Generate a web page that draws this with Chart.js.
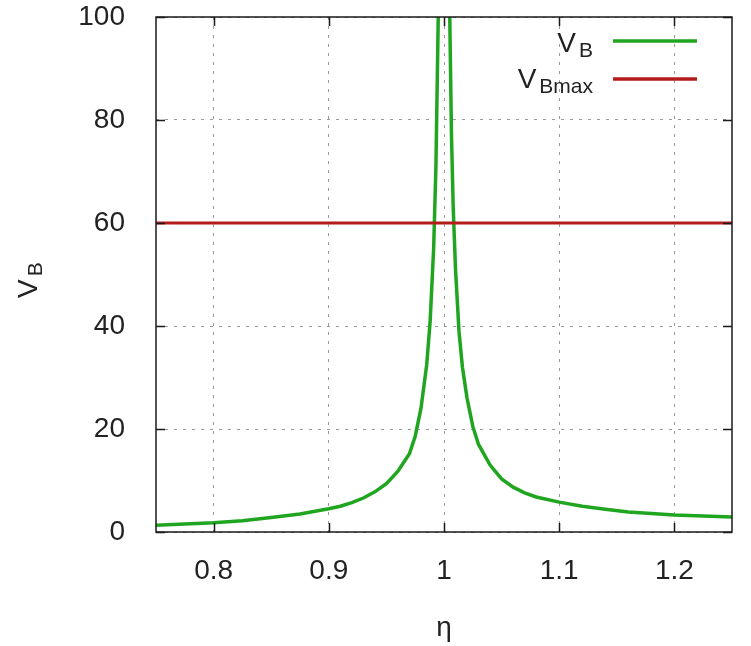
<!DOCTYPE html>
<html>
<head>
<meta charset="utf-8">
<script src="https://cdn.jsdelivr.net/npm/chart.js@4.4.1/dist/chart.umd.min.js"></script>
<style>
  html, body { margin: 0; padding: 0; background: #fff; }
  canvas { display: block; }
</style>
</head>
<body>
<canvas id="grafico" width="751" height="646"></canvas>
<script>
// valores
const eta = [0.75, 0.775, 0.8, 0.825, 0.85, 0.875, 0.9, 0.91, 0.92, 0.93, 0.94, 0.95, 0.96, 0.97, 0.975, 0.98, 0.985, 0.988, 0.991, 0.993, 0.995, 0.9965,
             1.0015, 1.005, 1.0065, 1.008, 1.01, 1.013, 1.016, 1.02, 1.025, 1.03, 1.04, 1.05, 1.06, 1.07, 1.08, 1.1, 1.12, 1.14, 1.16, 1.18, 1.2, 1.225, 1.25];
const vB = [1.3, 1.55, 1.8, 2.2, 2.8, 3.5, 4.5, 5.0, 5.7, 6.6, 7.8, 9.4, 11.8, 15.2, 18.6, 24.0, 32.5, 41, 55, 71, 100, 140,
            330, 100, 77, 63, 51, 39, 32, 26, 20.5, 17, 13, 10.3, 8.7, 7.6, 6.8, 5.8, 5.0, 4.4, 3.9, 3.6, 3.3, 3.1, 2.9];
const vBmax = [60, 60];
const etaRange = [0.75, 1.25];
const xTicks = [0.8, 0.9, 1, 1.1, 1.2];
const xTickLabels = ['0.8', '0.9', '1', '1.1', '1.2'];
const yTicks = [0, 20, 40, 60, 80, 100];
const yTickLabels = ['0', '20', '40', '60', '80', '100'];

const verde = '#20a520';
const vermelho = '#b41c1c';
const fonte = '"Liberation Sans", Arial, sans-serif';

// texto com subscrito (V_B)
function textoSub(ctx, base, sub, tam) {
  ctx.font = tam + 'px ' + fonte;
  const w1 = ctx.measureText(base).width;
  ctx.font = Math.round(tam * 0.75) + 'px ' + fonte;
  const w2 = ctx.measureText(sub).width;
  return { w1, w2, desenha(px, py) {
    ctx.font = tam + 'px ' + fonte;
    ctx.fillText(base, px, py);
    ctx.font = Math.round(tam * 0.75) + 'px ' + fonte;
    ctx.fillText(sub, px + w1 + 3, py + 5);
  }};
}

const moldura = {
  id: 'moldura',
  afterDatasetsDraw(chart) {
    const { ctx, chartArea: a, scales: { x, y } } = chart;
    ctx.save();
    ctx.strokeStyle = '#1a1a1a';
    ctx.lineWidth = 1.5;
    ctx.strokeRect(a.left, a.top, a.right - a.left, a.bottom - a.top);
    ctx.beginPath();
    xTicks.forEach(v => {
      const px = Math.round(x.getPixelForValue(v)) + 0.5;
      ctx.moveTo(px, a.bottom); ctx.lineTo(px, a.bottom - 9);
      ctx.moveTo(px, a.top); ctx.lineTo(px, a.top + 9);
    });
    yTicks.forEach(v => {
      const py = Math.round(y.getPixelForValue(v)) + 0.5;
      ctx.moveTo(a.left, py); ctx.lineTo(a.left + 9, py);
      ctx.moveTo(a.right, py); ctx.lineTo(a.right - 9, py);
    });
    ctx.stroke();

    // legenda
    ctx.fillStyle = '#222';
    ctx.textBaseline = 'alphabetic';
    ctx.textAlign = 'left';
    const itens = [
      { base: 'V', sub: 'B', cor: verde, y: 52, ly: 41 },
      { base: 'V', sub: 'Bmax', cor: vermelho, y: 88, ly: 79 }
    ];
    itens.forEach(it => {
      const t = textoSub(ctx, it.base, it.sub, 28);
      const fim = 593;
      t.desenha(fim - t.w1 - 3 - t.w2, it.y);
      ctx.strokeStyle = it.cor;
      ctx.lineWidth = 3.5;
      ctx.beginPath();
      ctx.moveTo(613, it.ly); ctx.lineTo(697, it.ly);
      ctx.stroke();
    });

    // titulo do eixo y, rotacionado
    ctx.translate(37, 298);
    ctx.rotate(-Math.PI / 2);
    textoSub(ctx, 'V', 'B', 28).desenha(0, 0);
    ctx.restore();
  }
};

const ctx = document.getElementById('grafico');

new Chart(ctx, {
  type: 'line',
  data: {
    datasets: [
      {
        label: 'V_B',
        data: eta.map((e, i) => ({ x: e, y: vB[i] })),
        borderColor: verde,
        borderWidth: 3.5,
        pointRadius: 0,
        tension: 0,
        order: 1
      },
      {
        label: 'V_Bmax',
        data: etaRange.map((e, i) => ({ x: e, y: vBmax[i] })),
        borderColor: vermelho,
        borderWidth: 3,
        pointRadius: 0,
        order: 0
      }
    ]
  },
  options: {
    responsive: false,
    animation: false,
    layout: { padding: { top: 17, right: 19, left: 0, bottom: 0 } },
    plugins: { legend: { display: false }, tooltip: { enabled: false } },
    scales: {
      x: {
        type: 'linear',
        min: etaRange[0],
        max: etaRange[1],
        afterBuildTicks: s => { s.ticks = xTicks.map(v => ({ value: v })); },
        afterFit: s => { s.height = 114; s.paddingLeft = 0; s.paddingRight = 0; },
        grid: { color: '#9a9a9a', lineWidth: 1, drawTicks: false },
        border: { display: false, dash: [3, 6] },
        ticks: {
          padding: 22,
          color: '#222',
          font: { family: fonte, size: 28 },
          callback: (v) => xTickLabels[xTicks.indexOf(v)]
        },
        title: {
          display: true,
          text: 'η',
          color: '#222',
          font: { family: fonte, size: 28 },
          padding: { top: 0, bottom: 1 }
        }
      },
      y: {
        min: 0,
        max: 100,
        afterBuildTicks: s => { s.ticks = yTicks.map(v => ({ value: v })); },
        afterFit: s => { s.width = 156; s.paddingTop = 0; s.paddingBottom = 0; },
        grid: { color: '#9a9a9a', lineWidth: 1, drawTicks: false },
        border: { display: false, dash: [3, 6] },
        ticks: {
          padding: 31,
          color: '#222',
          font: { family: fonte, size: 28 },
          callback: (v) => yTickLabels[yTicks.indexOf(v)]
        }
      }
    }
  },
  plugins: [moldura]
});
</script>
</body>
</html>
